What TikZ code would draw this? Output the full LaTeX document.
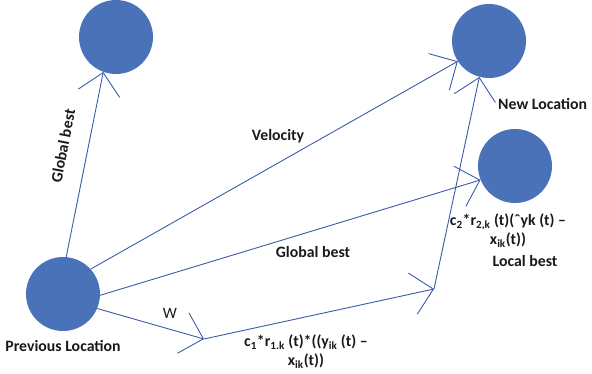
\documentclass[tikz,border=0pt]{standalone}
\usepackage{fontspec}
\setmainfont{Carlito}
\usepackage{tikz}
\usetikzlibrary{arrows.meta,positioning}
\definecolor{spotblue}{HTML}{4A72B8}
\definecolor{linkblue}{HTML}{3A5CA6}

\begin{document}
\begin{tikzpicture}[
  x=1pt, y=-1pt,
  spot/.style={circle, fill=spotblue, minimum size=74pt, inner sep=0pt},
  link/.style={-{Straight Barb[length=21pt, width=42pt]}, line width=0.9pt, color=linkblue},
  lbl/.style={font=\fontsize{15.8}{19}\selectfont\bfseries, text=black!90, align=center, inner sep=1pt},
  node distance=4pt
]
  \useasboundingbox (0,0) rectangle (592,373);
  % the four positions
  \node[spot] (prev) at (63,294) {};
  \node[spot] (gbest) at (116,37) {};
  \node[spot] (newloc) at (489,41) {};
  \node[spot] (lbest) at (515,166) {};
  \coordinate (wend) at (204,339);
  \coordinate (cend) at (434,289);

  \draw[link] (prev.85) -- (gbest.-110);
  \draw[link] (prev.42) -- (newloc.213);
  \draw[link] (prev.-2) -- (lbest.202);
  \draw[link] (prev.-23) -- (wend);
  \draw[link] (wend) -- (cend);
  \draw[link] (cend) -- (newloc.-105);

  \node[lbl, below=8pt of prev] (prevtxt) {Previous Location};
  \node[lbl, rotate=79] (gbtxt) at (63,146) {Global best};
  \node[lbl] (veltxt) at (278,136) {Velocity};
  \node[lbl] (gbmid) at (313,252) {Global best};
  \node[lbl, anchor=west] (newtxt) at (497,104) {New Location};
  \node[lbl] (c2txt) at (508,231) {c\textsubscript{2}*r\textsubscript{2,k} (t)(ˆyk (t) –\\x\textsubscript{ik}(t))};
  \node[lbl] (lbtxt) at (525,261) {Local best};
  \node[lbl, font=\fontsize{15.8}{19}\selectfont] (wtxt) at (170,313) {W};
  \node[lbl] (c1txt) at (306,352) {c\textsubscript{1}*r\textsubscript{1.k} (t)*((y\textsubscript{ik} (t) –\\x\textsubscript{ik}(t))};
\end{tikzpicture}
\end{document}
